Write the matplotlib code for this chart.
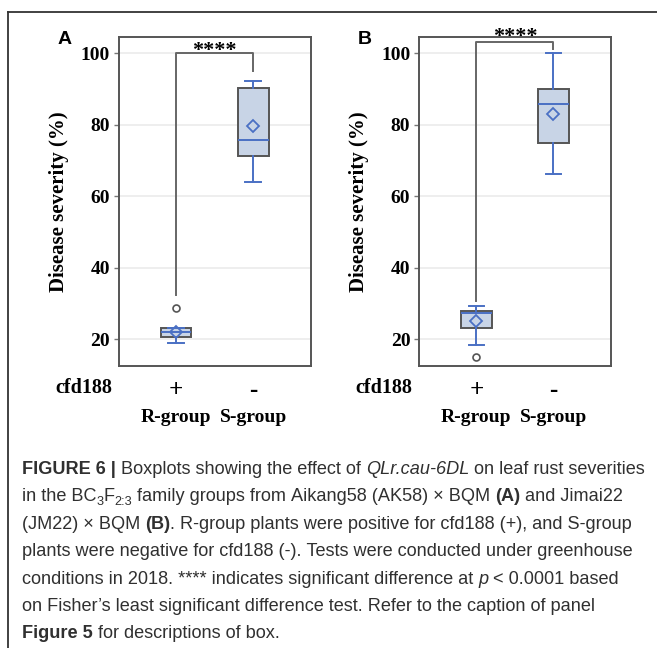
import matplotlib
matplotlib.use("Agg")
import matplotlib.pyplot as plt
from matplotlib.transforms import IdentityTransform
from matplotlib.lines import Line2D

# ---------------- data ----------------
groups = ["R-group", "S-group"]
marker_signs = ["+", "-"]
yticks = [20, 40, 60, 80, 100]

# Panel A (AK58 x BQM)
A_q1 = [20.7, 71.1]
A_med = [22.0, 75.7]
A_q3 = [23.1, 90.1]
A_mean = [21.9, 79.7]
A_whislo = [18.9, 63.9]
A_whishi = [23.2, 92.1]
A_fliers = [[28.6], []]
A_bracket = [100.0, 32.3, 94.9]   # top, left drop, right drop

# Panel B (JM22 x BQM)
B_q1 = [23.2, 74.8]
B_med = [27.3, 85.9]
B_q3 = [27.8, 89.9]
B_mean = [25.1, 83.0]
B_whislo = [18.3, 66.3]
B_whishi = [29.3, 100.0]
B_fliers = [[15.0], []]
B_bracket = [103.0, 30.8, 101.1]

sig_label = "****"

# ---------------- style ----------------
W, H, DPI = 657, 648, 100
fig = plt.figure(figsize=(W / DPI, H / DPI), dpi=DPI)
fig.patch.set_facecolor("white")

SERIF = "Liberation Serif"
SANS = "Liberation Sans"
BOX_FILL = "#c8d4e6"
BOX_EDGE = "#555555"
BLUE = "#4a70c4"
SPINE = "#555555"


def make_stats(q1, med, q3, mean, lo, hi, fl):
    return [dict(q1=q1[i], med=med[i], q3=q3[i], mean=mean[i],
                 whislo=lo[i], whishi=hi[i], fliers=fl[i], label=groups[i])
            for i in range(len(groups))]


def panel(left_px, stats, bracket, star_y, letter, letter_x):
    ax = fig.add_axes([left_px / W, 1 - 366 / H, 192 / W, 329 / H])
    ax.bxp(stats, positions=[1, 2], widths=0.40, showmeans=True,
           patch_artist=True, showfliers=True, manage_ticks=False,
           boxprops=dict(facecolor=BOX_FILL, edgecolor=BOX_EDGE, lw=1.4),
           medianprops=dict(color=BLUE, lw=1.4),
           whiskerprops=dict(color=BLUE, lw=1.4),
           capprops=dict(color=BLUE, lw=1.4),
           capwidths=0.20,
           meanprops=dict(marker="D", markerfacecolor="none",
                          markeredgecolor=BLUE, markersize=6.5, mew=1.3),
           flierprops=dict(marker="o", markerfacecolor="none",
                           markeredgecolor="#555555", markersize=5, mew=1.2))
    ax.set_xlim(0.26, 2.75)
    ax.set_ylim(12.5, 104.5)
    ax.set_yticks(yticks)
    ax.set_yticklabels([str(t) for t in yticks], fontfamily=SERIF,
                       fontweight="bold", fontsize=14)
    ax.tick_params(axis="y", length=3.5, width=1, color="#777777", pad=3)
    ax.set_xticks([])
    ax.grid(axis="y", color="#ebebeb", lw=1.2, zorder=0)
    ax.set_axisbelow(True)
    for s in ax.spines.values():
        s.set_color(SPINE)
        s.set_linewidth(1.4)

    top, ldrop, rdrop = bracket
    ax.plot([1, 1, 2, 2], [ldrop, top, top, rdrop], color="#666666",
            lw=1.4, clip_on=False, zorder=5)
    ax.text(1.5, star_y, sig_label, ha="center", va="center",
            fontfamily=SERIF, fontweight="bold", fontsize=16,
            clip_on=False, zorder=6)

    ax.set_ylabel("Disease severity (%)", fontfamily=SERIF,
                  fontweight="bold", fontsize=15)
    ax.yaxis.set_label_coords(-0.262, 0.5)

    xt = ax.get_xaxis_transform()
    for i, (sgn, g) in enumerate(zip(marker_signs, groups)):
        ax.text(i + 1, -0.073, sgn, transform=xt, ha="center", va="center",
                fontfamily=SERIF, fontweight="bold", fontsize=18)
        ax.text(i + 1, -0.158, g, transform=xt, ha="center", va="center",
                fontfamily=SERIF, fontweight="bold", fontsize=14)
    ax.text(-0.183, -0.067, "cfd188", transform=ax.transAxes, ha="center",
            va="center", fontfamily=SERIF, fontweight="bold", fontsize=14.5)

    fig.text(letter_x / W, 1 - 40 / H, letter, ha="center", va="center",
             fontfamily=SANS, fontweight="bold", fontsize=14)
    return ax


panel(119, make_stats(A_q1, A_med, A_q3, A_mean, A_whislo, A_whishi, A_fliers),
      A_bracket, 100.5, "A", 65)
panel(419.3, make_stats(B_q1, B_med, B_q3, B_mean, B_whislo, B_whishi, B_fliers),
      B_bracket, 104.4, "B", 365)

# outer frame (top and left edges)
fig.add_artist(Line2D([8 / W, 1.0], [1 - 12 / H, 1 - 12 / H], color="#333333",
                      lw=1.3, transform=fig.transFigure))
fig.add_artist(Line2D([8 / W, 8 / W], [0.0, 1 - 12 / H], color="#333333",
                      lw=1.3, transform=fig.transFigure))

# ---------------- caption ----------------
caption_lines = [
    [("FIGURE 6 |", "b"), (" Boxplots showing the effect of ", "n"),
     ("QLr.cau-6DL", "i"), (" on leaf rust severities", "n")],
    [("in the BC", "n"), ("3", "s"), ("F", "n"), ("2:3", "s"),
     (" family groups from Aikang58 (AK58) \u00d7 BQM ", "n"), ("(A)", "b"),
     (" and Jimai22", "n")],
    [("(JM22) \u00d7 BQM ", "n"), ("(B)", "b"),
     (". R-group plants were positive for cfd188 (+), and S-group", "n")],
    [("plants were negative for cfd188 (-). Tests were conducted under greenhouse", "n")],
    [("conditions in 2018. **** indicates significant difference at ", "n"),
     ("p", "i"), (" < 0.0001 based", "n")],
    [("on Fisher\u2019s least significant difference test. Refer to the caption of panel", "n")],
    [("Figure 5", "b"), (" for descriptions of box.", "n")],
]

CAP_SIZE = 13.1
CAP_COLOR = "#303030"
renderer = fig.canvas.get_renderer()
base_y = 474
line_gap = 27.4
for li, runs in enumerate(caption_lines):
    x = 22.0
    y = H - (base_y + li * line_gap)
    for txt, st in runs:
        kw = dict(fontfamily=SANS, fontsize=CAP_SIZE, color=CAP_COLOR,
                  ha="left", va="baseline", transform=IdentityTransform())
        yy = y
        if st == "b":
            kw["fontweight"] = "bold"
        elif st == "i":
            kw["fontstyle"] = "italic"
        elif st == "s":
            kw["fontsize"] = CAP_SIZE * 0.7
            yy = y - 4
        t = fig.text(x, yy, txt.replace(" ", "\u00a0"), **kw)
        x += t.get_window_extent(renderer).width

fig.savefig("out.png", dpi=DPI)
